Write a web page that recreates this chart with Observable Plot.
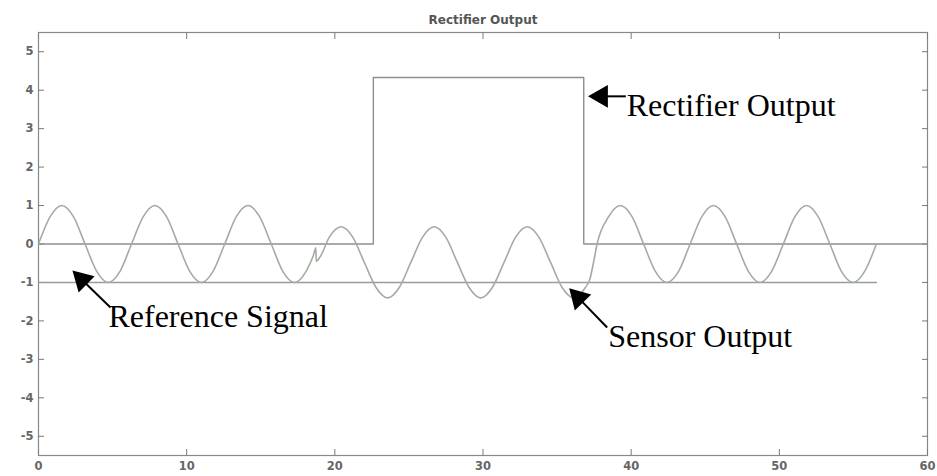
<!DOCTYPE html>
<html>
<head>
<meta charset="utf-8">
<script src="https://cdn.jsdelivr.net/npm/d3@7"></script>
<script src="https://cdn.jsdelivr.net/npm/@observablehq/plot@0.6"></script>
<style>
  html, body { margin: 0; padding: 0; background: #fff; }
  #chart svg { display: block; }
</style>
</head>
<body>
<div id="chart"></div>
<script>
// ---- Data ----
const titleText = "Rectifier Output";

// Sensor output (sine wave, offset in the middle section)
const sensorT = [0.00,0.79,1.57,2.36,3.14,3.93,4.71,5.50,6.28,7.07,7.85,8.64,9.42,10.21,11.00,11.78,12.57,13.35,14.14,14.92,15.71,16.49,17.28,18.06,
  18.55,18.72,18.74,19.00,
  19.63,20.42,21.21,21.99,22.78,23.56,24.35,25.13,25.92,26.70,27.49,28.27,29.06,29.85,30.63,31.42,32.20,32.99,33.77,34.56,35.34,36.13,36.91,
  37.20,37.45,37.70,
  38.48,39.27,40.06,40.84,41.63,42.41,43.20,43.98,44.77,45.55,46.34,47.12,47.91,48.69,49.48,50.27,51.05,51.84,52.62,53.41,54.19,54.98,55.76,56.55];
const sensorV = [0,0.71,1,0.71,0,-0.71,-1,-0.71,0,0.71,1,0.71,0,-0.71,-1,-0.71,0,0.71,1,0.71,0,-0.71,-1,-0.71,
  -0.3,-0.1,-0.45,-0.34,
  0.18,0.45,0.18,-0.48,-1.13,-1.40,-1.13,-0.48,0.18,0.45,0.18,-0.48,-1.13,-1.40,-1.13,-0.48,0.18,0.45,0.18,-0.48,-1.13,-1.40,-1.13,
  -0.93,-0.5,0,
  0.71,1,0.71,0,-0.71,-1,-0.71,0,0.71,1,0.71,0,-0.71,-1,-0.71,0,0.71,1,0.71,0,-0.71,-1,-0.71,0];

// Rectifier output (step)
const rectT = [0, 22.6, 22.6, 36.8, 36.8, 60];
const rectV = [0, 0, 4.33, 4.33, 0, 0];

// Reference level line
const refT = [0, 56.55];
const refV = [-1, -1];

// Ticks
const xTicks = [0, 10, 20, 30, 40, 50, 60];
const yTicks = [-5, -4, -3, -2, -1, 0, 1, 2, 3, 4, 5];

// Annotations (data coordinates)
const labelText = ["Rectifier Output", "Reference Signal", "Sensor Output"];
const labelX = [39.7, 4.72, 38.45];
const labelY = [3.32, -2.15, -2.69];
const arrowX1 = [39.64, 4.86, 38.38];
const arrowY1 = [3.84, -1.65, -2.17];
const arrowX2 = [37.98, 2.93, 36.44];
const arrowY2 = [3.84, -0.93, -1.40];
const arrowRotate = [-90, -45.8, -44.2];

// ---- Build tables ----
const sensor = sensorT.map((t, i) => ({t, v: sensorV[i]}));
const rect = rectT.map((t, i) => ({t, v: rectV[i]}));
const ref = refT.map((t, i) => ({t, v: refV[i]}));
const labels = labelText.map((s, i) => ({s, x: labelX[i], y: labelY[i]}));
const arrows = arrowX1.map((x1, i) => ({x1, y1: arrowY1[i], x2: arrowX2[i], y2: arrowY2[i], r: arrowRotate[i]}));

const tickColor = "#7a7a7a";
const labelColor = "#666";
const tickFont = "DejaVu Sans, sans-serif";

const svg = Plot.plot({
  width: 937,
  height: 476,
  marginLeft: 38,
  marginRight: 10,
  marginTop: 32,
  marginBottom: 21,
  style: {background: "#fff", overflow: "visible"},
  x: {domain: [0, 60], label: null},
  y: {domain: [-5.5, 5.5], label: null},
  marks: [
    Plot.frame({stroke: "#888", strokeWidth: 1.2}),
    // inward ticks on all four sides
    Plot.axisX(xTicks, {anchor: "bottom", tickSize: -6, tickFormat: () => "", stroke: tickColor}),
    Plot.axisX(xTicks, {anchor: "top", tickSize: -6, tickFormat: () => "", stroke: tickColor}),
    Plot.axisY(yTicks, {anchor: "left", tickSize: -6, tickFormat: () => "", stroke: tickColor}),
    Plot.axisY(yTicks, {anchor: "right", tickSize: -6, tickFormat: () => "", stroke: tickColor}),
    // tick labels
    Plot.axisX(xTicks, {anchor: "bottom", tickSize: 0, tickPadding: 6, fontSize: 11.5, fontWeight: "bold", fontFamily: tickFont, fill: labelColor, ariaLabel: "xlabels"}),
    Plot.axisY(yTicks, {anchor: "left", tickSize: 0, tickPadding: 5, fontSize: 11.5, fontWeight: "bold", fontFamily: tickFont, fill: labelColor, ariaLabel: "ylabels", tickFormat: (d) => String(d)}),
    // title
    Plot.text([titleText], {frameAnchor: "top", dy: -12, lineAnchor: "middle", fontSize: 12, fontWeight: "bold", fontFamily: tickFont, fill: "#555", ariaLabel: "title"}),
    // series
    Plot.line(ref, {x: "t", y: "v", stroke: "#9a9a9a", strokeWidth: 1.4}),
    Plot.line(rect, {x: "t", y: "v", stroke: "#8e8e8e", strokeWidth: 1.4}),
    Plot.line(sensor, {x: "t", y: "v", stroke: "#a2ada2", strokeWidth: 1.6, curve: "monotone-x"}),
    // annotations
    Plot.link(arrows, {x1: "x1", y1: "y1", x2: "x2", y2: "y2", stroke: "black", strokeWidth: 2}),
    Plot.dot(arrows, {x: "x2", y: "y2", rotate: "r", symbol: "triangle", r: 8.5, fill: "black", stroke: "none"}),
    Plot.text(labels, {x: "x", y: "y", text: "s", textAnchor: "start", lineAnchor: "bottom", fontSize: 32, fontFamily: "Liberation Serif, Times New Roman, serif", fill: "black"})
  ]
});

d3.select(svg).selectAll('g[aria-label="title"] text').style("letter-spacing", "2.5px");
d3.select(svg).selectAll('g[aria-label="ylabels"] text').style("letter-spacing", "1.5px");
document.getElementById("chart").appendChild(svg);
</script>
</body>
</html>
